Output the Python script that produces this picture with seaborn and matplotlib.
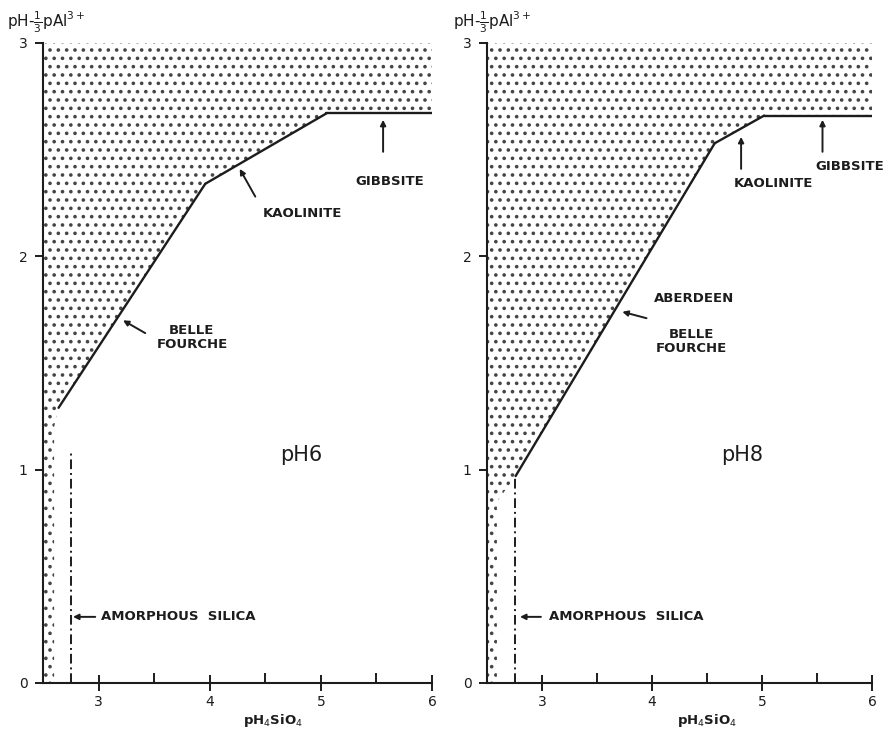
"""Two-panel stability diagram (pH 6 / pH 8) for Al-silicate phases."""
import matplotlib
matplotlib.use("Agg")
import matplotlib.pyplot as plt
import seaborn as sns

# ---- data ---------------------------------------------------------------
# phase boundaries (x = pH4SiO4, y = pH - 1/3 pAl3+)
ph6_gibbsite_x = [5.05, 6.0]
ph6_gibbsite_y = [2.67, 2.67]
ph6_kaolinite_x = [3.96, 5.05]
ph6_kaolinite_y = [2.34, 2.67]
ph6_belle_x = [2.64, 3.96]
ph6_belle_y = [1.29, 2.34]
ph6_silica_x = [2.75, 2.75]
ph6_silica_y = [0.0, 1.08]
ph6_shade_x = [2.5, 6.0, 6.0, 5.05, 3.96, 2.64, 2.60, 2.60, 2.5]
ph6_shade_y = [3.0, 3.0, 2.67, 2.67, 2.34, 1.29, 1.20, 0.0, 0.0]

ph8_gibbsite_x = [5.02, 6.0]
ph8_gibbsite_y = [2.66, 2.66]
ph8_kaolinite_x = [4.57, 5.02]
ph8_kaolinite_y = [2.53, 2.66]
ph8_belle_x = [2.76, 4.57]
ph8_belle_y = [0.97, 2.53]
ph8_silica_x = [2.75, 2.75]
ph8_silica_y = [0.0, 0.97]
ph8_shade_x = [2.5, 6.0, 6.0, 5.02, 4.57, 2.76, 2.59, 2.59, 2.5]
ph8_shade_y = [3.0, 3.0, 2.66, 2.66, 2.53, 0.97, 0.85, 0.0, 0.0]

x_major = [3, 4, 5, 6]
x_minor = [3.5, 4.5, 5.5]
y_major = [0, 1, 2, 3]

# label text, text position, arrow tail, arrow head
ph6_labels = [
    ("GIBBSITE", (5.62, 2.35), (5.56, 2.49), (5.56, 2.64)),
    ("KAOLINITE", (4.83, 2.20), (4.41, 2.28), (4.27, 2.41)),
    ("BELLE\nFOURCHE", (3.84, 1.62), (3.42, 1.64), (3.22, 1.70)),
]
ph8_labels = [
    ("GIBBSITE", (5.80, 2.42), (5.55, 2.49), (5.55, 2.64)),
    ("KAOLINITE", (5.10, 2.34), (4.81, 2.41), (4.81, 2.56)),
    ("ABERDEEN", (4.38, 1.80), (3.95, 1.71), (3.73, 1.74)),
    ("BELLE\nFOURCHE", (4.36, 1.60), None, None),
]
ph6_silica_lab = ((3.02, 0.31), (2.97, 0.31), (2.77, 0.31))
ph8_silica_lab = ((3.06, 0.31), (2.99, 0.31), (2.80, 0.31))

sns.set_theme(style="ticks")
plt.rcParams["font.family"] = ["DejaVu Sans"]
plt.rcParams["hatch.linewidth"] = 1.4
INK = "#1c1c1c"

fig = plt.figure(figsize=(8.93, 7.37), dpi=100)
ax_l = fig.add_axes([43 / 893, 54 / 737, 389 / 893, 640 / 737])
ax_r = fig.add_axes([487 / 893, 54 / 737, 385 / 893, 640 / 737])

panels = [
    (ax_l, "pH6", ph6_shade_x, ph6_shade_y,
     [(ph6_gibbsite_x, ph6_gibbsite_y), (ph6_kaolinite_x, ph6_kaolinite_y),
      (ph6_belle_x, ph6_belle_y)],
     (ph6_silica_x, ph6_silica_y), ph6_labels, ph6_silica_lab, 0.59),
    (ax_r, "pH8", ph8_shade_x, ph8_shade_y,
     [(ph8_gibbsite_x, ph8_gibbsite_y), (ph8_kaolinite_x, ph8_kaolinite_y),
      (ph8_belle_x, ph8_belle_y)],
     (ph8_silica_x, ph8_silica_y), ph8_labels, ph8_silica_lab, 0.571),
]

for ax, name, sx, sy, bounds, silica, labels, slab, xlab_pos in panels:
    ax.fill(sx, sy, facecolor="white", edgecolor="#454545", linewidth=0,
            hatch="..", zorder=1)
    for bx, by in bounds:
        sns.lineplot(x=bx, y=by, ax=ax, color=INK, lw=1.7, sort=False,
                     estimator=None, zorder=3)
    sns.lineplot(x=silica[0], y=silica[1], ax=ax, color=INK, lw=1.4,
                 sort=False, estimator=None, linestyle=(0, (5, 2, 1, 2)),
                 zorder=3)

    for txt, pos, tail, head in labels:
        ax.text(pos[0], pos[1], txt, ha="center", va="center", fontsize=9.5,
                fontweight="bold", color=INK, linespacing=1.1)
        if tail is not None:
            ax.annotate("", xy=head, xytext=tail,
                        arrowprops=dict(arrowstyle="-|>", color=INK, lw=1.4,
                                        mutation_scale=8, shrinkA=0, shrinkB=0))
    ax.text(slab[0][0], slab[0][1], "AMORPHOUS  SILICA", ha="left",
            va="center", fontsize=9.5, fontweight="bold", color=INK)
    ax.annotate("", xy=slab[2], xytext=slab[1],
                arrowprops=dict(arrowstyle="-|>", color=INK, lw=1.4,
                                mutation_scale=8, shrinkA=0, shrinkB=0))
    ax.text(4.82, 1.07, name, ha="center", va="center", fontsize=15, color=INK)

    ax.set_xlim(2.5, 6.0)
    ax.set_ylim(0, 3)
    ax.set_xticks(x_major)
    ax.set_xticks(x_minor, minor=True)
    ax.set_yticks(y_major)
    ax.tick_params(axis="x", which="major", direction="inout", length=11,
                   width=1.4, pad=3, labelsize=10, colors=INK)
    ax.tick_params(axis="x", which="minor", direction="in", length=7,
                   width=1.4, colors=INK)
    ax.tick_params(axis="y", direction="out", length=6, width=1.4, pad=5,
                   labelsize=10, colors=INK)
    for side in ("top", "right"):
        ax.spines[side].set_visible(False)
    for side in ("left", "bottom"):
        ax.spines[side].set_linewidth(1.5)
        ax.spines[side].set_color(INK)
    ax.set_xlabel(r"pH$_4$SiO$_4$", fontsize=9.5, fontweight="bold", color=INK)
    ax.xaxis.set_label_coords(xlab_pos, -0.046)
    ax.set_ylabel("")
    ax.set_facecolor("white")

fig.text(46 / 893, 1 - 22 / 737, r"pH-$\frac{1}{3}$pAl$^{3+}$", ha="center",
         va="center", fontsize=11, color=INK)
fig.text(492 / 893, 1 - 22 / 737, r"pH-$\frac{1}{3}$pAl$^{3+}$", ha="center",
         va="center", fontsize=11, color=INK)

fig.savefig("out.png", dpi=100, facecolor="white")
